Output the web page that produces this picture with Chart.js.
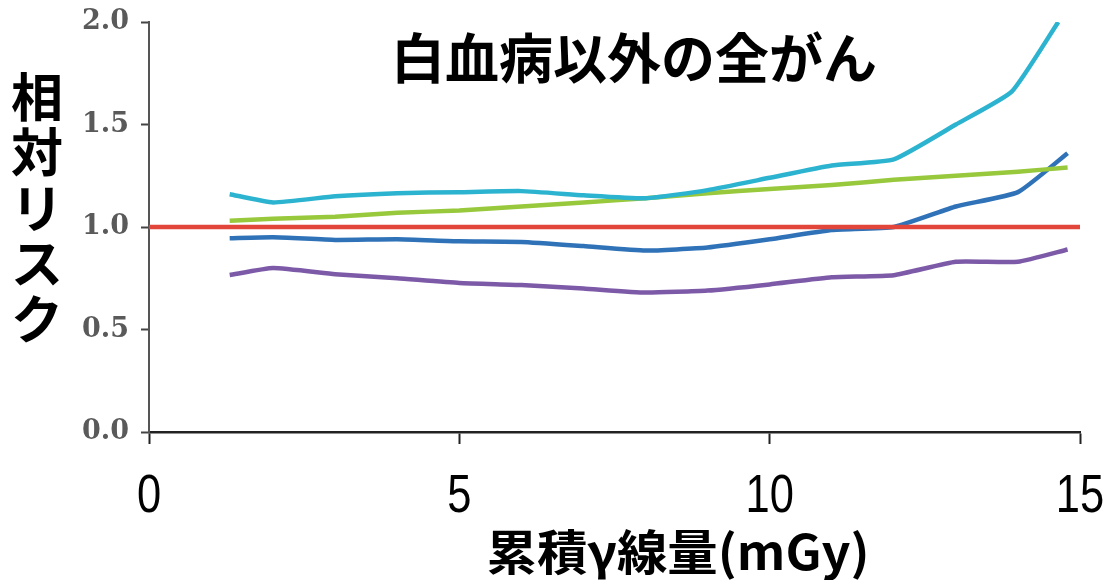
<!DOCTYPE html>
<html>
<head>
<meta charset="utf-8">
<script src="https://cdn.jsdelivr.net/npm/chart.js@4"></script>
<style>
  html, body { margin: 0; padding: 0; background: #ffffff; }
  #wrap { width: 1111px; height: 580px; }
</style>
</head>
<body>
<div id="wrap"><canvas id="c" width="1111" height="580"></canvas></div>
<script>
// Cumulative gamma dose (mGy) at which each relative-risk curve is sampled
const dose = [1.3, 2, 3, 4, 5, 6, 7, 8, 9, 10, 11, 12, 13, 14, 14.8];
const doseUpper = [1.3, 2, 3, 4, 5, 6, 7, 8, 9, 10, 11, 12, 13, 13.9, 14.65];

// Relative risk curves
const riskUpper  = [1.16, 1.12, 1.15, 1.165, 1.17, 1.175, 1.155, 1.14, 1.18, 1.24, 1.30, 1.33, 1.50, 1.66, 2.0];
const riskTrend  = [1.03, 1.04, 1.05, 1.07, 1.08, 1.10, 1.12, 1.14, 1.165, 1.185, 1.205, 1.23, 1.25, 1.27, 1.29];
const riskMid    = [0.945, 0.95, 0.937, 0.94, 0.93, 0.927, 0.907, 0.885, 0.90, 0.94, 0.985, 1.0, 1.10, 1.17, 1.36];
const riskLower  = [0.766, 0.80, 0.77, 0.75, 0.727, 0.717, 0.70, 0.68, 0.69, 0.72, 0.755, 0.765, 0.83, 0.83, 0.89];

// Reference level (RR = 1)
const baselineDose = [0, 15];
const baselineRisk = [1.0, 1.0];

// Axis tick labels
const xTickLabels = ['0', '5', '10', '15'];
const yTickLabels = ['0.0', '0.5', '1.0', '1.5', '2.0'];

const chartTitle = '白血病以外の全がん';
const yTitle = '相対リスク';
const xTitle = '累積γ線量(mGy)';

function pts(xs, ys) { return xs.map((x, i) => ({ x: x, y: ys[i] })); }

const line = (data, color, width) => ({
  data: data,
  borderColor: color,
  borderWidth: width,
  pointRadius: 0,
  tension: 0.15,
  fill: false
});

const textPlugin = {
  id: 'texts',
  afterDraw(chart) {
    const ctx = chart.ctx;
    const xs = chart.scales.x;
    ctx.save();
    ctx.fillStyle = '#000';
    ctx.textAlign = 'center';
    ctx.textBaseline = 'middle';

    // x tick labels in a condensed face
    ctx.font = '53px "Liberation Sans"';
    xTickLabels.forEach(t => {
      const px = xs.getPixelForValue(Number(t));
      ctx.save();
      ctx.translate(px, 497);
      ctx.scale(0.82, 1);
      ctx.fillText(t, 0, 0);
      ctx.restore();
    });

    // chart title
    ctx.font = 'bold 54px "Noto Sans CJK JP"';
    ctx.fillText(chartTitle, 634, 58);

    // vertical y-axis title, characters stacked upright
    ctx.font = 'bold 52px "Noto Sans CJK JP"';
    Array.from(yTitle).forEach((ch, i) => ctx.fillText(ch, 37, 97 + i * 55.5));

    // x-axis title, condensed
    ctx.font = 'bold 48px "Noto Sans CJK JP"';
    const w = ctx.measureText(xTitle).width;
    ctx.translate(678, 552);
    ctx.scale(383 / w, 1);
    ctx.fillText(xTitle, 0, 0);
    ctx.restore();
  }
};

new Chart(document.getElementById('c'), {
  type: 'line',
  data: {
    datasets: [
      line(pts(baselineDose, baselineRisk), '#e2463a', 4.5),
      line(pts(doseUpper, riskUpper), '#2cb3cf', 4.5),
      line(pts(dose, riskTrend), '#98c83c', 4.5),
      line(pts(dose, riskMid), '#2f72b8', 4.5),
      line(pts(dose, riskLower), '#7d5aa8', 4.5)
    ]
  },
  options: {
    responsive: false,
    animation: false,
    devicePixelRatio: 1,
    layout: { padding: { top: 22, right: 31, left: 0, bottom: 0 } },
    plugins: { legend: { display: false }, tooltip: { enabled: false }, title: { display: false } },
    scales: {
      x: {
        type: 'linear',
        min: 0, max: 15,
        afterFit(s) { s.height = 148; s.paddingLeft = 0; s.paddingRight = 0; },
        afterBuildTicks(s) { s.ticks = xTickLabels.map(v => ({ value: Number(v) })); },
        ticks: { display: false },
        grid: { drawOnChartArea: false, drawTicks: true, tickLength: 12, tickColor: '#222', tickWidth: 2 },
        border: { display: true, color: '#222', width: 2.5 }
      },
      y: {
        min: 0, max: 2,
        afterFit(s) { s.width = 149; s.paddingTop = 0; s.paddingBottom = 0; },
        afterBuildTicks(s) { s.ticks = yTickLabels.map(v => ({ value: Number(v) })); },
        ticks: {
          callback: (v) => yTickLabels.find(t => Number(t) === v),
          font: { family: '"DejaVu Serif"', size: 27, weight: 'bold' },
          color: '#5a5a5a',
          padding: 12
        },
        grid: { drawOnChartArea: false, drawTicks: true, tickLength: 8, tickColor: '#444', tickWidth: 2 },
        border: { display: true, color: '#555', width: 2 }
      }
    }
  },
  plugins: [textPlugin]
});
</script>
</body>
</html>
